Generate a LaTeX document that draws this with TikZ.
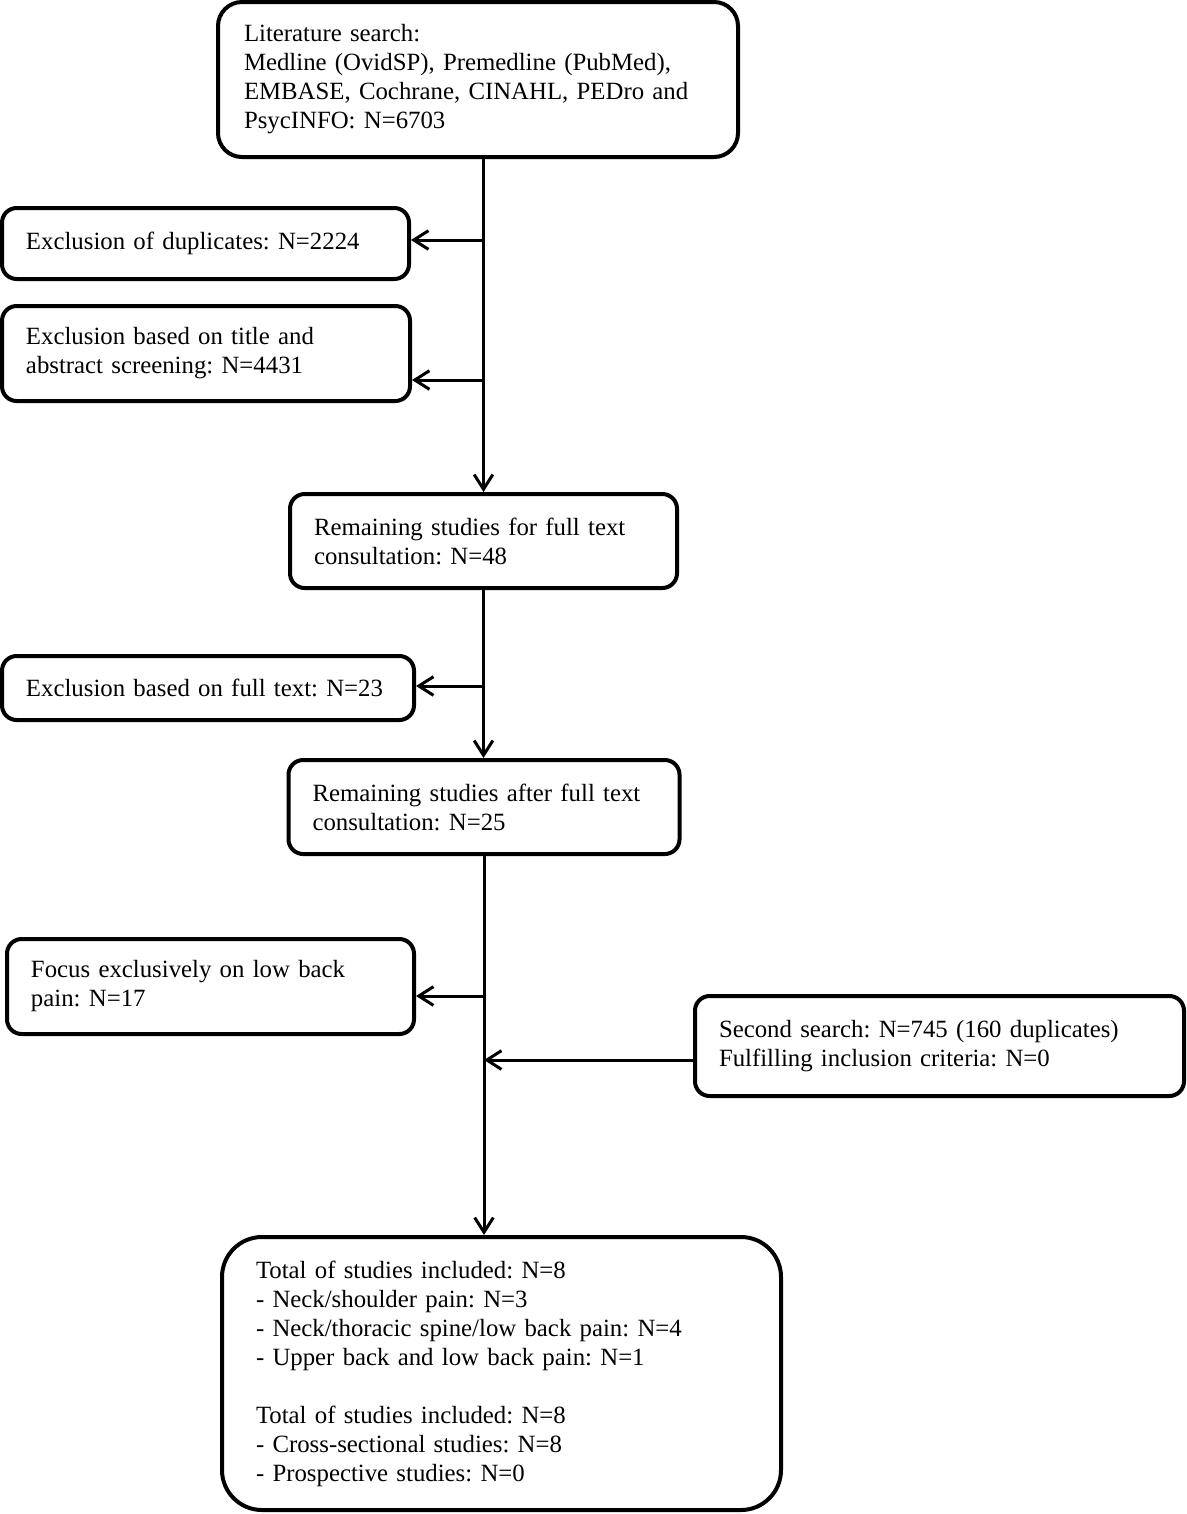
\documentclass[tikz,border=0pt]{standalone}
\usepackage{fontspec}
\setmainfont{Liberation Serif}
\usetikzlibrary{arrows.meta}
\frenchspacing
\begin{document}
\begin{tikzpicture}[x=0.75pt,y=-0.75pt,
 box/.style={draw, line width=3pt, rounded corners=11pt, align=left, inner xsep=18pt, inner ysep=0pt, font=\frenchspacing\fontsize{18.6}{21.75}\selectfont},
 arr/.style={line width=2.25pt, -{Straight Barb[length=11pt,width=14pt]}}]
\useasboundingbox (0,0) rectangle (1186,1514);
\node[box, minimum height=116.25pt, text width=351pt, rounded corners=18pt, inner xsep=19.5pt] (top) at (478,79.5)
 {Literature search:\\Medline (OvidSP), Premedline (PubMed),\\EMBASE, Cochrane, CINAHL, PEDro and\\PsycINFO: N=6703};
\node[box, minimum height=53.25pt, text width=269.25pt] (dup) at (205.5,243.5)
 {Exclusion of duplicates: N=2224};
\node[box, minimum height=71.25pt, text width=270pt] (title) at (206,353.5)
 {Exclusion based on title and\\abstract screening: N=4431};
\node[box, minimum height=70.5pt, text width=254.25pt] (rem1) at (483.5,541)
 {Remaining studies for full text\\consultation: N=48};
\node[box, minimum height=48pt, text width=273pt] (exft) at (208,688)
 {Exclusion based on full text: N=23};
\node[box, minimum height=70.5pt, text width=257.25pt] (rem2) at (484,807)
 {Remaining studies after full text\\consultation: N=25};
\node[box, minimum height=71.25pt, text width=269.25pt] (focus) at (210.5,986.5)
 {Focus exclusively on low back\\pain: N=17};
\node[box, minimum height=75pt, text width=330.75pt] (second) at (939.5,1046)
 {Second search: N=745 (160 duplicates)\\Fulfilling inclusion criteria: N=0};
\node[box, minimum height=204.75pt, text width=368.25pt, inner xsep=25.5pt, rounded corners=30pt] (final) at (501.5,1373.5)
 {Total of studies included: N=8\\- Neck/shoulder pain: N=3\\- Neck/thoracic spine/low back pain: N=4\\- Upper back and low back pain: N=1\\[21.75pt]Total of studies included: N=8\\- Cross-sectional studies: N=8\\- Prospective studies: N=0};
\draw[arr] (top.south -| rem1.north) -- (rem1.north);
\coordinate (j1) at (483.5,240);
\coordinate (j2) at (483.5,380);
\draw[arr] (j1) -- (j1 -| dup.east);
\draw[arr] (j2) -- (j2 -| title.east);
\draw[arr] (rem1.south) -- (rem1.south |- rem2.north);
\coordinate (j3) at (483.5,686);
\draw[arr] (j3) -- (j3 -| exft.east);
\draw[arr] (rem2.south) -- (rem2.south |- final.north);
\coordinate (j4) at (484,996);
\draw[arr] (j4) -- (j4 -| focus.east);
\coordinate (j5) at (484,1060);
\draw[arr] (j5 -| second.west) -- (j5);
\end{tikzpicture}
\end{document}
